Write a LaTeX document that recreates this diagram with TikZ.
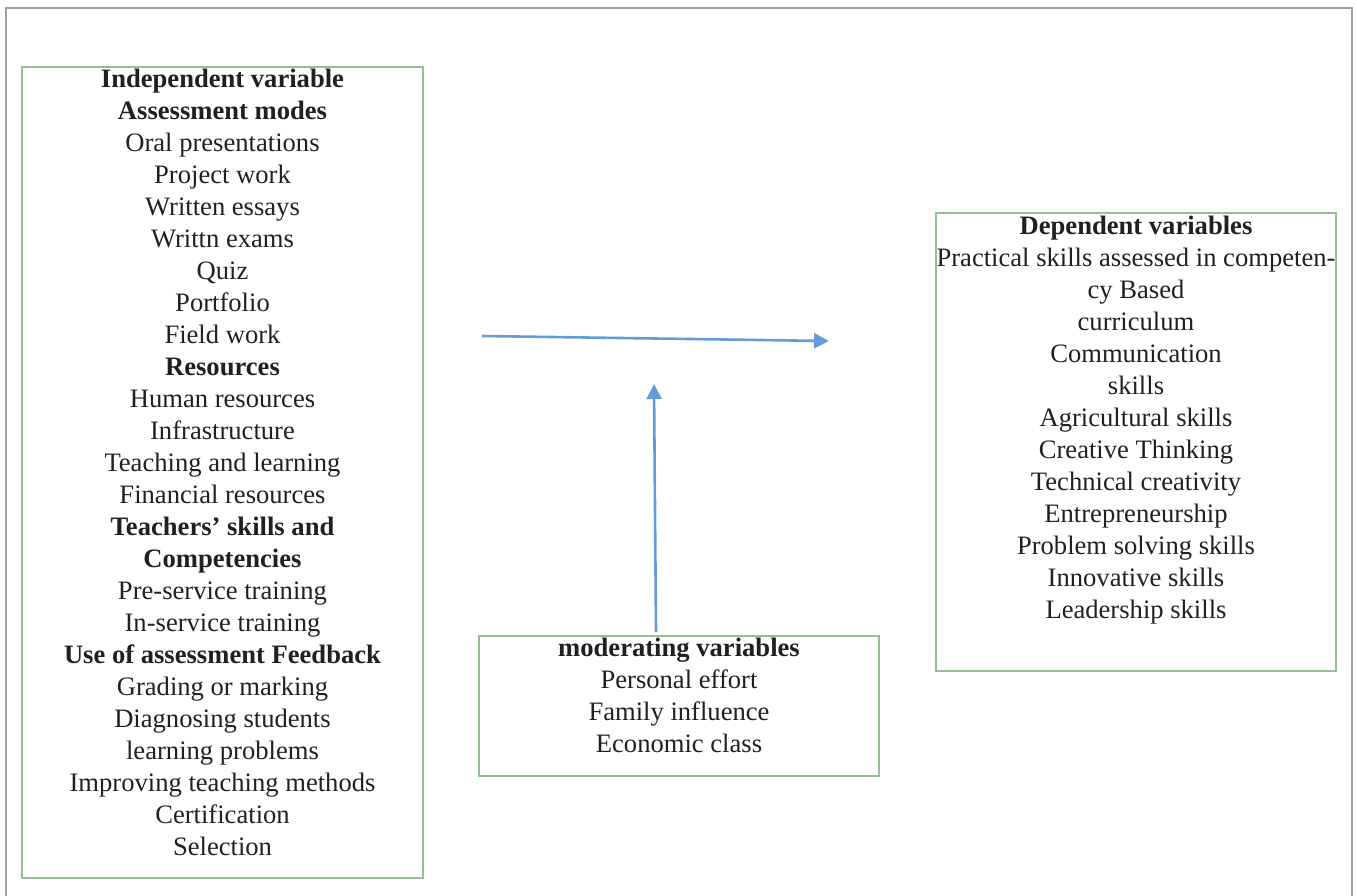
\documentclass[tikz,border=0pt]{standalone}
\usepackage{fontspec}
\setmainfont{Liberation Serif}
\usetikzlibrary{arrows.meta}
\definecolor{frameg}{RGB}{160,160,163}
\definecolor{boxg}{RGB}{146,192,146}
\definecolor{arrowb}{RGB}{100,157,214}
\definecolor{txtc}{RGB}{35,31,32}
\tikzset{
  box/.style={draw=boxg, line width=2pt, rectangle, inner sep=0pt},
  txt/.style={align=center, inner sep=0pt, text=txtc, font=\fontsize{26.6}{32}\selectfont},
  flow/.style={draw=arrowb, line width=2.6pt, -{Triangle[length=15pt,width=15pt]}}
}
\begin{document}
\begin{tikzpicture}[x=1pt,y=-1pt]
\useasboundingbox (0,0) rectangle (1357,895);
\draw[frameg, line width=2.4pt] (6,900) -- (6,8) -- (1352,8) -- (1352,900);

\node[box, minimum width=401pt, minimum height=811pt] (indep) at (222.5,472.5) {};
\node[txt, anchor=north] (indeptxt) at ([yshift=-3pt]indep.north) {%
\textbf{Independent variable}\\
\textbf{Assessment modes}\\
Oral presentations\\
Project work\\
Written essays\\
Writtn exams\\
Quiz\\
Portfolio\\
Field work\\
\textbf{Resources}\\
Human resources\\
Infrastructure\\
Teaching and learning\\
Financial resources\\
\textbf{Teachers’ skills and}\\
\textbf{Competencies}\\
Pre-service training\\
In-service training\\
\textbf{Use of assessment Feedback}\\
Grading or marking\\
Diagnosing students\\
learning problems\\
Improving teaching methods\\
Certification\\
Selection};

\node[box, minimum width=400pt, minimum height=458pt] (dep) at (1136,442) {};
\node[txt, anchor=north] (deptxt) at ([yshift=-4pt]dep.north) {%
\textbf{Dependent variables}\\
Practical skills assessed in competen-\\
cy Based\\
curriculum\\
Communication\\
skills\\
Agricultural skills\\
Creative Thinking\\
Technical creativity\\
Entrepreneurship\\
Problem solving skills\\
Innovative skills\\
Leadership skills};

\node[box, minimum width=400pt, minimum height=140pt] (mod) at (679,706) {};
\node[txt, anchor=north] (modtxt) at ([yshift=-3pt]mod.north) {%
\textbf{moderating variables}\\
Personal effort\\
Family influence\\
Economic class};

\coordinate (hs) at (482,336);
\coordinate (he) at (829,341);
\coordinate (vs) at (656,632);
\coordinate (ve) at (654,384);
\draw[flow] (hs) -- (he);
\draw[flow] (vs) -- (ve);
\end{tikzpicture}
\end{document}
